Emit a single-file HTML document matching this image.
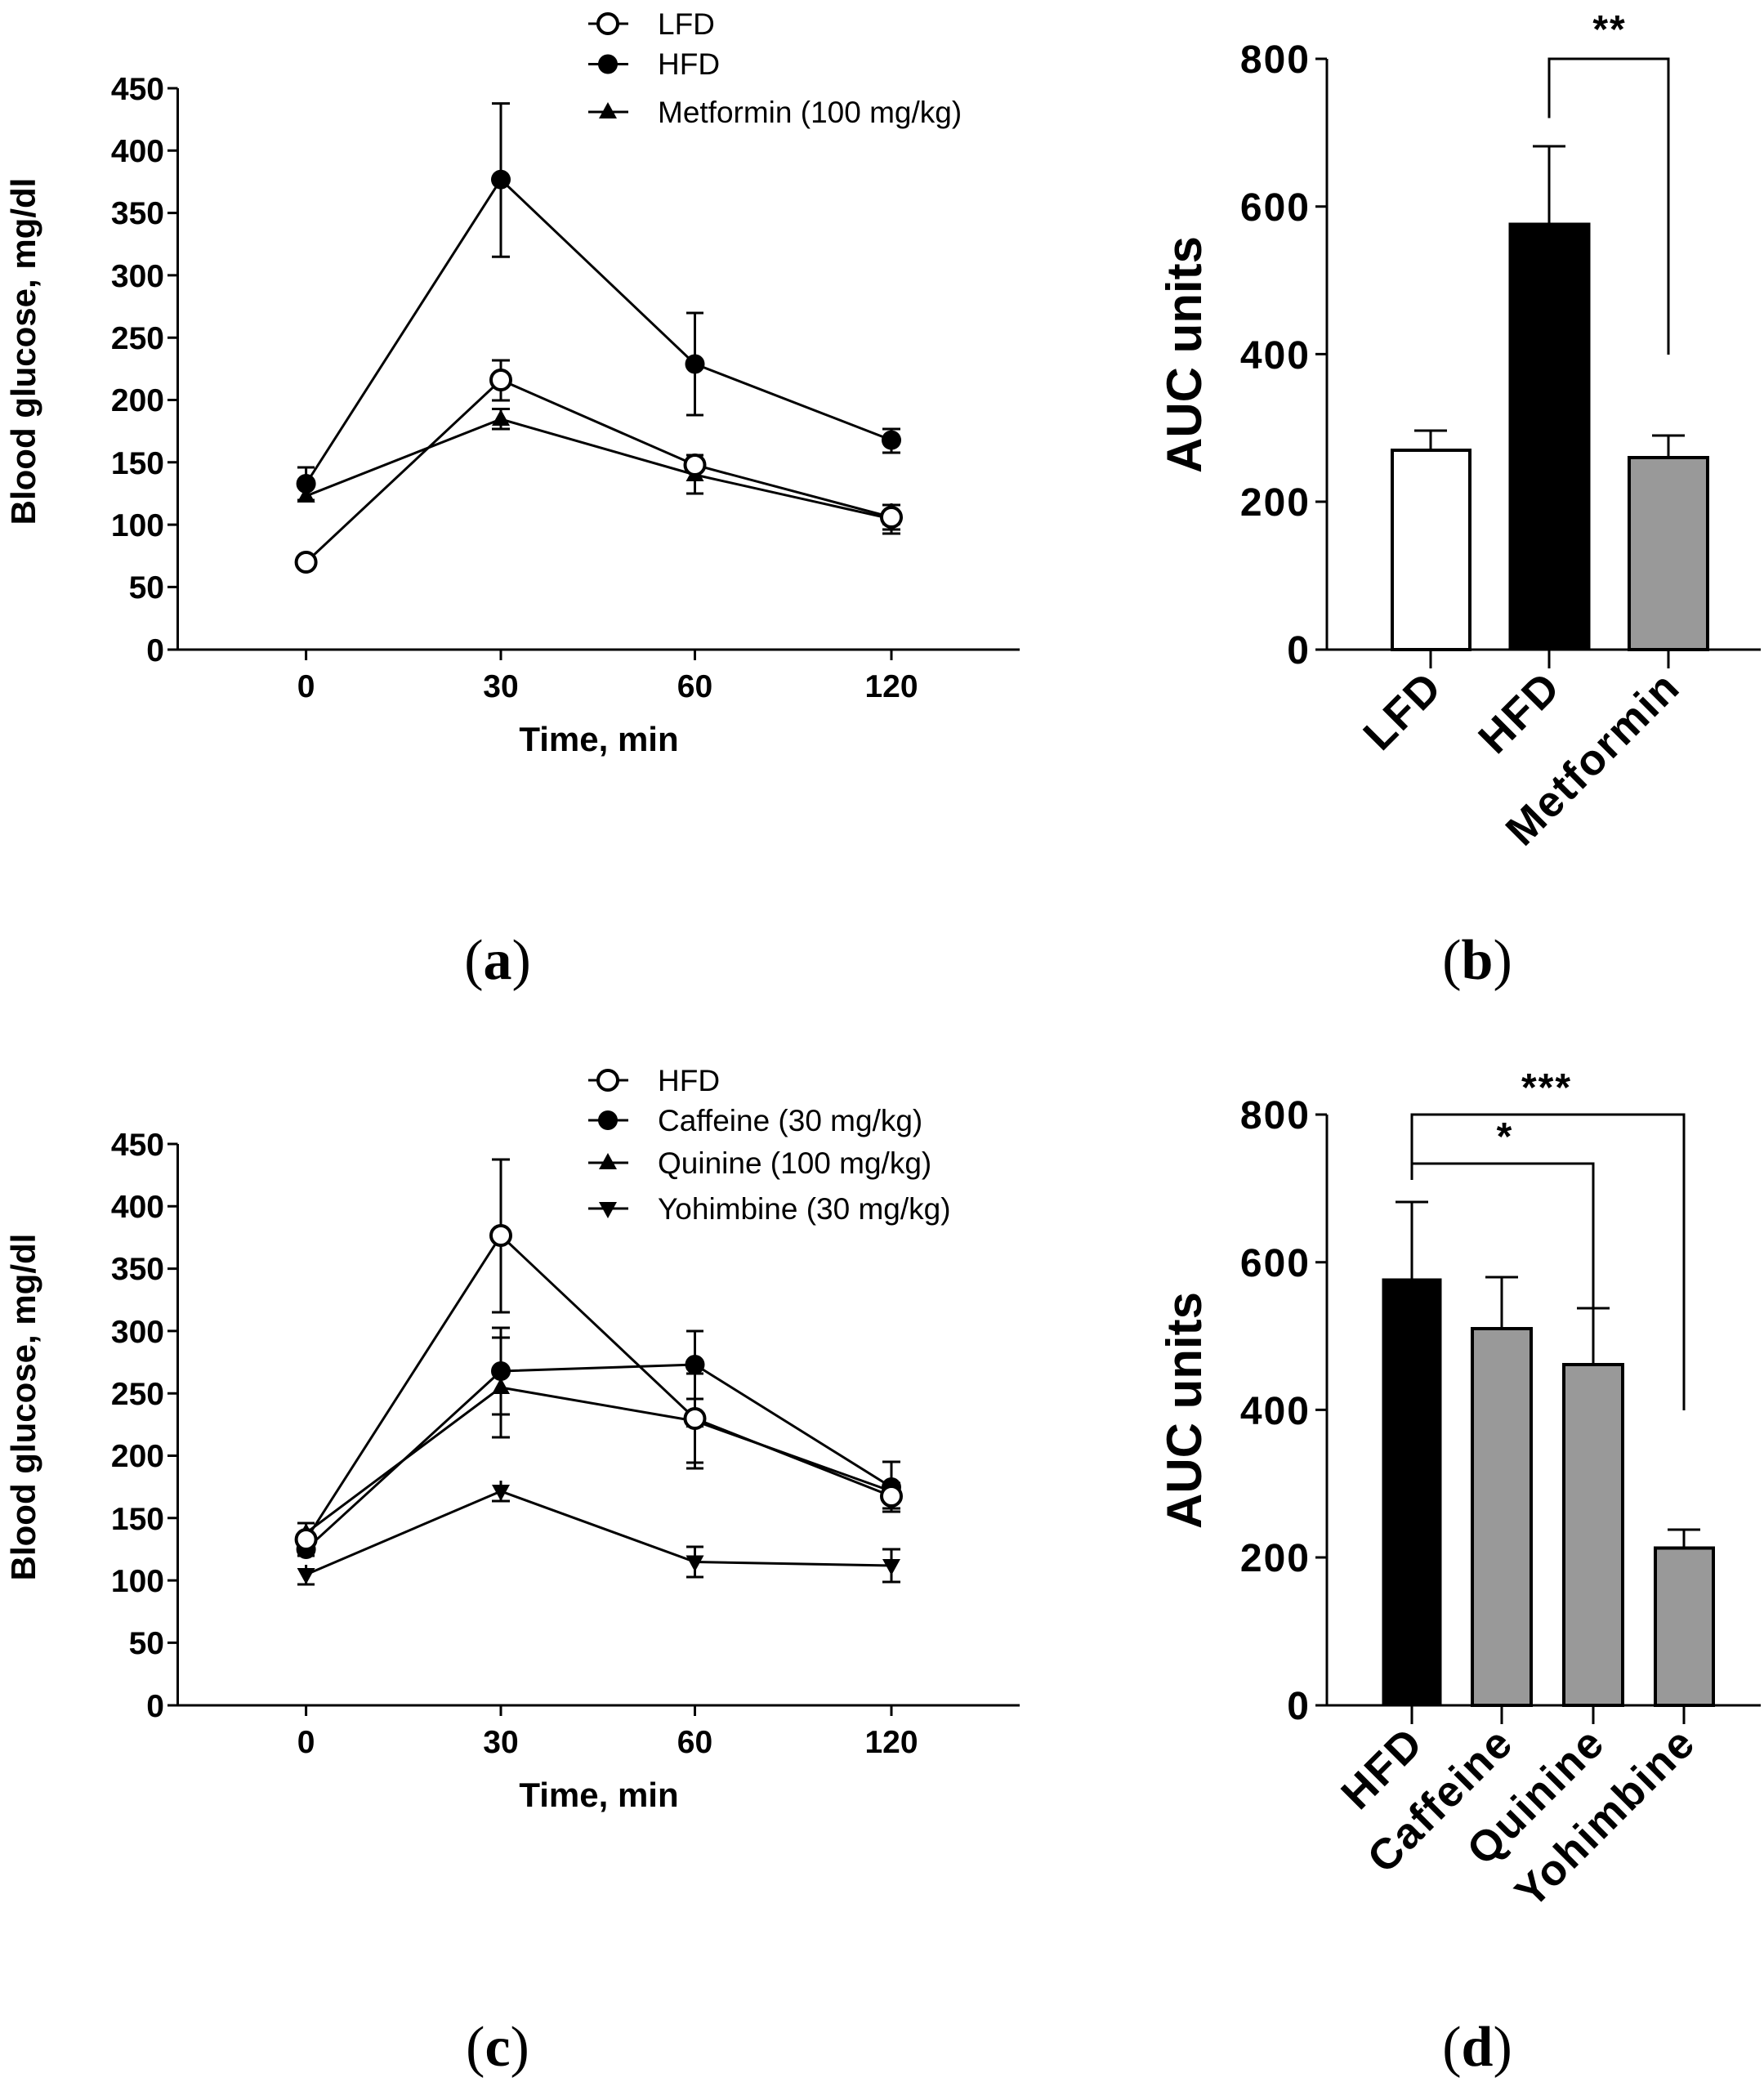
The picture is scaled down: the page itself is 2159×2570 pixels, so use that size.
<!DOCTYPE html>
<html><head><meta charset="utf-8"><style>
html,body{margin:0;padding:0;background:#fff}
svg{display:block}
.t{font-family:"Liberation Sans",sans-serif;font-weight:bold}
.lg{font-family:"Liberation Sans",sans-serif;font-size:37px}
.bk{font-family:"Liberation Sans",sans-serif;font-weight:900;font-size:48px;letter-spacing:2px}
.bc{font-family:"Liberation Sans",sans-serif;font-weight:900;font-size:53px;letter-spacing:2px}
.pl{font-family:"Liberation Serif",serif;font-size:70px}
</style></head><body>
<svg width="2159" height="2570" viewBox="0 0 2159 2570" xmlns="http://www.w3.org/2000/svg">
<defs>
<g id="fc"><circle r="12" fill="#000"/></g>
<g id="oc"><circle r="12" fill="#fff" stroke="#000" stroke-width="4"/></g>
<g id="tu"><polygon points="0,-12 11,8 -11,8" fill="#000"/></g>
<g id="td"><polygon points="0,12 11,-8 -11,-8" fill="#000"/></g>
</defs>
<g stroke="#000" stroke-width="3" fill="none">
<path d="M217.5 108 V795 H1248"/>
<path d="M205 108H217.5M205 184.3H217.5M205 260.6H217.5M205 336.9H217.5M205 413.2H217.5M205 489.5H217.5M205 565.8H217.5M205 642.1H217.5M205 718.4H217.5M205 795H217.5"/>
<path d="M374.6 795V808M613 795V808M850.5 795V808M1091 795V808"/>
<polyline points="374.6,592 613,219.7 850.5,445.5 1091,538.6"/>
<polyline points="374.6,688 613,465 850.5,569 1091,633"/>
<polyline points="374.6,607 613,513 850.5,581 1091,635"/>
<path d="M374.6 572V612M364 572H385M364 612H385"/>
<path d="M613 126.6V314.3M602 126.6H624M602 314.3H624"/>
<path d="M850.5 383V508M840 383H861M840 508H861"/>
<path d="M1091 525V554M1080 525H1102M1080 554H1102"/>
<path d="M613 441V490M602 441H624M602 490H624"/>
<path d="M850.5 557V581M840 557H861"/>
<path d="M1091 618V648M1080 618H1102M1080 648H1102"/>
<path d="M613 500.5V525M602 500.5H624M602 525H624"/>
<path d="M850.5 558V604M840 604H861"/>
<path d="M1091 616V653M1080 653H1102"/>
<path d="M720 29H769M720 78.5H769M720 137H769"/>
</g>
<use href="#fc" x="374.6" y="592"/><use href="#fc" x="613" y="219.7"/><use href="#fc" x="850.5" y="445.5"/><use href="#fc" x="1091" y="538.6"/>
<use href="#tu" x="374.6" y="607"/><use href="#tu" x="613" y="513"/><use href="#tu" x="850.5" y="581"/><use href="#tu" x="1091" y="635"/>
<use href="#oc" x="374.6" y="688"/><use href="#oc" x="613" y="465"/><use href="#oc" x="850.5" y="569"/><use href="#oc" x="1091" y="633"/>
<use href="#oc" x="744" y="29"/><use href="#fc" x="744" y="78.5"/><use href="#tu" x="744" y="137"/>
<g class="lg"><text x="805" y="42">LFD</text><text x="805" y="91">HFD</text><text x="805" y="150">Metformin (100 mg/kg)</text></g>
<g class="t" font-size="39" text-anchor="end">
<text x="201" y="122">450</text><text x="201" y="198">400</text><text x="201" y="274">350</text><text x="201" y="351">300</text><text x="201" y="427">250</text><text x="201" y="503">200</text><text x="201" y="580">150</text><text x="201" y="656">100</text><text x="201" y="732">50</text><text x="201" y="809">0</text>
</g>
<g class="t" font-size="39" text-anchor="middle">
<text x="374.6" y="853">0</text><text x="613" y="853">30</text><text x="850.5" y="853">60</text><text x="1091" y="853">120</text>
<text x="733" y="919" font-size="42">Time, min</text>
<text transform="translate(43,430) rotate(-90)" font-size="42">Blood glucose, mg/dl</text>
</g>

<g stroke="#000" stroke-width="3" fill="none">
<rect x="1704" y="551" width="95" height="244" fill="#fff" stroke-width="4"/>
<rect x="1848" y="274" width="97" height="521" fill="#000"/>
<rect x="1994" y="560" width="96" height="235" fill="#999" stroke-width="4"/>
<path d="M1751 551V527M1731 527H1771"/>
<path d="M1896 274V179M1876 179H1916"/>
<path d="M2042 560V533M2022 533H2062"/>
<path d="M1624 72V795H2155"/>
<path d="M1610 72H1624M1610 252.7H1624M1610 433.4H1624M1610 614H1624M1610 795H1624"/>
<path d="M1751 795V818M1896 795V818M2042 795V818"/>
<path d="M1896 144.5V72H2042V434"/>
</g>
<g class="bk" text-anchor="end">
<text x="1604" y="89">800</text><text x="1604" y="270">600</text><text x="1604" y="451">400</text><text x="1604" y="631">200</text><text x="1604" y="812">0</text>
</g>
<text class="bk" x="1970" y="52" text-anchor="middle">**</text>
<text class="t" font-size="60" text-anchor="middle" transform="translate(1470,434) rotate(-90)">AUC units</text>
<g class="bc">
<text text-anchor="end" transform="translate(1768,844) rotate(-45)">LFD</text>
<text text-anchor="end" transform="translate(1913,844) rotate(-45)">HFD</text>
<text text-anchor="end" transform="translate(2059,844) rotate(-45)">Metformin</text>
</g>
<text class="pl" x="609" y="1198" text-anchor="middle">(<tspan font-weight="bold">a</tspan>)</text>
<text class="pl" x="1808" y="1198" text-anchor="middle">(<tspan font-weight="bold">b</tspan>)</text>

<g stroke="#000" stroke-width="3" fill="none">
<path d="M217.5 1400 V2087 H1248"/>
<path d="M205 1400H217.5M205 1476.3H217.5M205 1552.6H217.5M205 1628.9H217.5M205 1705.2H217.5M205 1781.5H217.5M205 1857.8H217.5M205 1934.1H217.5M205 2010.4H217.5M205 2087H217.5"/>
<path d="M374.6 2087V2100M613 2087V2100M850.5 2087V2100M1091 2087V2100"/>
<polyline points="374.6,1884 613,1512 850.5,1736 1091,1831"/>
<polyline points="374.6,1896 613,1678 850.5,1670 1091,1820"/>
<polyline points="374.6,1876 613,1698 850.5,1739 1091,1825"/>
<polyline points="374.6,1927 613,1825 850.5,1911.5 1091,1916"/>
<path d="M374.6 1864V1904M364 1864H385M364 1904H385"/>
<path d="M613 1419V1606M602 1419H624M602 1606H624"/>
<path d="M850.5 1675V1797M840 1675H861M840 1797H861"/>
<path d="M1091 1815V1846M1080 1815H1102M1080 1846H1102"/>
<path d="M613 1625V1731M602 1625H624M602 1731H624"/>
<path d="M850.5 1629V1712M840 1629H861M840 1712H861"/>
<path d="M1091 1789V1850M1080 1789H1102M1080 1850H1102"/>
<path d="M613 1637V1759M602 1637H624M602 1759H624"/>
<path d="M850.5 1681V1797M840 1681H861M840 1790H861"/>
<path d="M374.6 1915V1939M364 1939H385"/>
<path d="M613 1812V1837M602 1837H624"/>
<path d="M850.5 1893V1930M840 1893H861M840 1930H861"/>
<path d="M1091 1896V1936M1080 1896H1102M1080 1936H1102"/>
<path d="M720 1322H769M720 1371H769M720 1423H769M720 1479H769"/>
</g>
<use href="#fc" x="374.6" y="1896"/><use href="#fc" x="613" y="1678"/><use href="#fc" x="850.5" y="1670"/><use href="#fc" x="1091" y="1820"/>
<use href="#tu" x="374.6" y="1876"/><use href="#tu" x="613" y="1698"/><use href="#tu" x="850.5" y="1739"/><use href="#tu" x="1091" y="1825"/>
<use href="#td" x="374.6" y="1927"/><use href="#td" x="613" y="1825"/><use href="#td" x="850.5" y="1911.5"/><use href="#td" x="1091" y="1916"/>
<use href="#oc" x="374.6" y="1884"/><use href="#oc" x="613" y="1512"/><use href="#oc" x="850.5" y="1736"/><use href="#oc" x="1091" y="1831"/>
<use href="#oc" x="744" y="1322"/><use href="#fc" x="744" y="1371"/><use href="#tu" x="744" y="1423"/><use href="#td" x="744" y="1479"/>
<g class="lg"><text x="805" y="1335">HFD</text><text x="805" y="1384">Caffeine (30 mg/kg)</text><text x="805" y="1436">Quinine (100 mg/kg)</text><text x="805" y="1492">Yohimbine (30 mg/kg)</text></g>
<g class="t" font-size="39" text-anchor="end">
<text x="201" y="1414">450</text><text x="201" y="1490">400</text><text x="201" y="1566">350</text><text x="201" y="1643">300</text><text x="201" y="1719">250</text><text x="201" y="1795">200</text><text x="201" y="1872">150</text><text x="201" y="1948">100</text><text x="201" y="2024">50</text><text x="201" y="2101">0</text>
</g>
<g class="t" font-size="39" text-anchor="middle">
<text x="374.6" y="2145">0</text><text x="613" y="2145">30</text><text x="850.5" y="2145">60</text><text x="1091" y="2145">120</text>
<text x="733" y="2211" font-size="42">Time, min</text>
<text transform="translate(43,1722) rotate(-90)" font-size="42">Blood glucose, mg/dl</text>
</g>

<g stroke="#000" stroke-width="3" fill="none">
<rect x="1693" y="1566" width="70" height="521" fill="#000"/>
<rect x="1802" y="1626" width="72" height="461" fill="#999" stroke-width="4"/>
<rect x="1914" y="1670" width="72" height="417" fill="#999" stroke-width="4"/>
<rect x="2026" y="1894.5" width="71" height="192.5" fill="#999" stroke-width="4"/>
<path d="M1728 1566V1471M1708 1471H1748"/>
<path d="M1838 1626V1563M1818 1563H1858"/>
<path d="M1950 1670V1601M1930 1601H1970"/>
<path d="M2061 1894.5V1872M2041 1872H2081"/>
<path d="M1624 1364V2087H2155"/>
<path d="M1610 1364H1624M1610 1544.7H1624M1610 1725.4H1624M1610 1906H1624M1610 2087H1624"/>
<path d="M1728 2087V2110M1838 2087V2110M1950 2087V2110M2061 2087V2110"/>
<path d="M1728 1444V1364H2061V1726"/>
<path d="M1728 1424H1950V1635"/>
</g>
<g class="bk" text-anchor="end">
<text x="1604" y="1381">800</text><text x="1604" y="1562">600</text><text x="1604" y="1743">400</text><text x="1604" y="1923">200</text><text x="1604" y="2104">0</text>
</g>
<text class="bk" x="1893" y="1347" text-anchor="middle">***</text>
<text class="bk" x="1842" y="1407" text-anchor="middle">*</text>
<text class="t" font-size="60" text-anchor="middle" transform="translate(1470,1726) rotate(-90)">AUC units</text>
<g class="bc">
<text text-anchor="end" transform="translate(1745,2136) rotate(-45)">HFD</text>
<text text-anchor="end" transform="translate(1855,2136) rotate(-45)">Caffeine</text>
<text text-anchor="end" transform="translate(1967,2136) rotate(-45)">Quinine</text>
<text text-anchor="end" transform="translate(2078,2136) rotate(-45)">Yohimbine</text>
</g>
<text class="pl" x="609" y="2528" text-anchor="middle">(<tspan font-weight="bold">c</tspan>)</text>
<text class="pl" x="1808" y="2528" text-anchor="middle">(<tspan font-weight="bold">d</tspan>)</text>
</svg>
</body></html>
